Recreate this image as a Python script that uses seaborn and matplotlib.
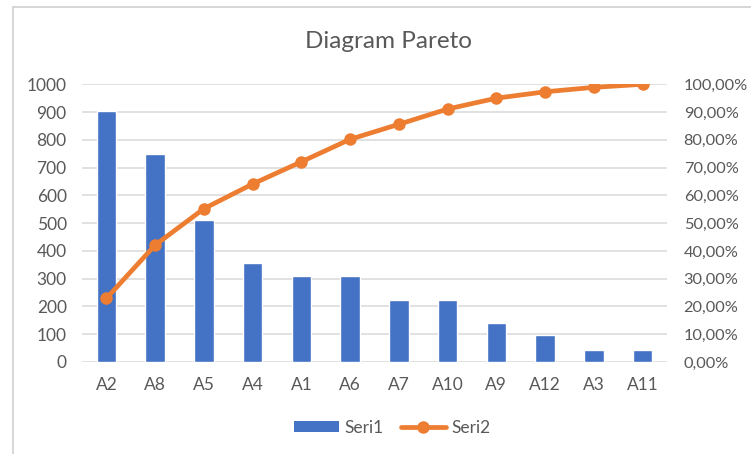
import numpy as np
import pandas as pd
import matplotlib
matplotlib.use("Agg")
import matplotlib.pyplot as plt
from matplotlib.ticker import FuncFormatter, MultipleLocator
from matplotlib.lines import Line2D
from matplotlib.patches import Patch
import seaborn as sns

categories = ["A2", "A8", "A5", "A4", "A1", "A6", "A7", "A10", "A9", "A12", "A3", "A11"]
seri1 = [905, 750, 510, 356, 311, 308, 222, 222, 142, 99, 43, 43]
seri2 = [22.9, 42.1, 55.2, 64.1, 72.1, 80.2, 85.6, 91.1, 95.0, 97.3, 98.9, 100.0]
title = "Diagram Pareto"

sns.set_theme(style="white")
plt.rcParams["font.family"] = ["Lato", "DejaVu Sans"]

BLUE = "#4472C4"
ORANGE = "#ED7D31"
GRID = "#D9D9D9"
TXT = "#595959"

df = pd.DataFrame({"cat": categories, "seri1": seri1, "seri2": seri2})
df["pos"] = np.arange(len(df))

fig = plt.figure(figsize=(7.51, 4.54), dpi=100)
ax1 = fig.add_axes([82 / 751, 1 - 362 / 454, (667 - 82) / 751, (362 - 84.3) / 454])

sns.barplot(data=df, x="cat", y="seri1", color=BLUE, width=0.40, saturation=1,
            ax=ax1, zorder=2)
ax1.set_ylim(0, 1000)
ax1.set_xlim(-0.5, len(categories) - 0.5)
ax1.yaxis.set_major_locator(MultipleLocator(100))
ax1.grid(axis="y", color=GRID, lw=1.1, zorder=0)
ax1.set_axisbelow(True)
for s in ax1.spines.values():
    s.set_visible(False)
ax1.set_xlabel("")
ax1.set_ylabel("")
ax1.tick_params(axis="y", length=0, pad=11, labelsize=12.5, labelcolor=TXT)
ax1.tick_params(axis="x", length=0, pad=11, labelsize=12.5, labelcolor=TXT)

ax2 = ax1.twinx()
sns.lineplot(data=df, x="pos", y="seri2", color=ORANGE, lw=3.4, marker="o",
             markersize=9, markeredgewidth=0, ax=ax2, zorder=3)
ax2.set_ylim(0, 100)
ax2.set_xlim(-0.5, len(categories) - 0.5)
ax2.yaxis.set_major_locator(MultipleLocator(10))
ax2.yaxis.set_major_formatter(FuncFormatter(lambda v, p: f"{v:.2f}".replace(".", ",") + "%"))
for s in ax2.spines.values():
    s.set_visible(False)
ax2.set_xlabel("")
ax2.set_ylabel("")
ax2.tick_params(axis="y", length=0, pad=12, labelsize=11.8, labelcolor=TXT)

fig.text(388 / 751, 1 - 42 / 454, title, ha="center", va="center", fontsize=17.5, color=TXT)

handles = [Patch(facecolor=BLUE, edgecolor="none"),
           Line2D([0], [0], color=ORANGE, lw=3.4, marker="o", markersize=9, markeredgewidth=0)]
fig.legend(handles, ["Seri1", "Seri2"], loc="center", bbox_to_anchor=(392 / 751, 1 - 428 / 454),
           ncol=2, frameon=False, fontsize=12.5, labelcolor=TXT, handlelength=2.6,
           handletextpad=0.3, columnspacing=1.0, handleheight=0.6)

# outer chart border (top and left visible)
fig.add_artist(Line2D([13 / 751, 13 / 751], [0, 1 - 7 / 454], transform=fig.transFigure, color="#D0D0D0", lw=1.2))
fig.add_artist(Line2D([13 / 751, 1], [1 - 7 / 454, 1 - 7 / 454], transform=fig.transFigure, color="#D0D0D0", lw=1.2))

fig.savefig("out.png", dpi=100)
